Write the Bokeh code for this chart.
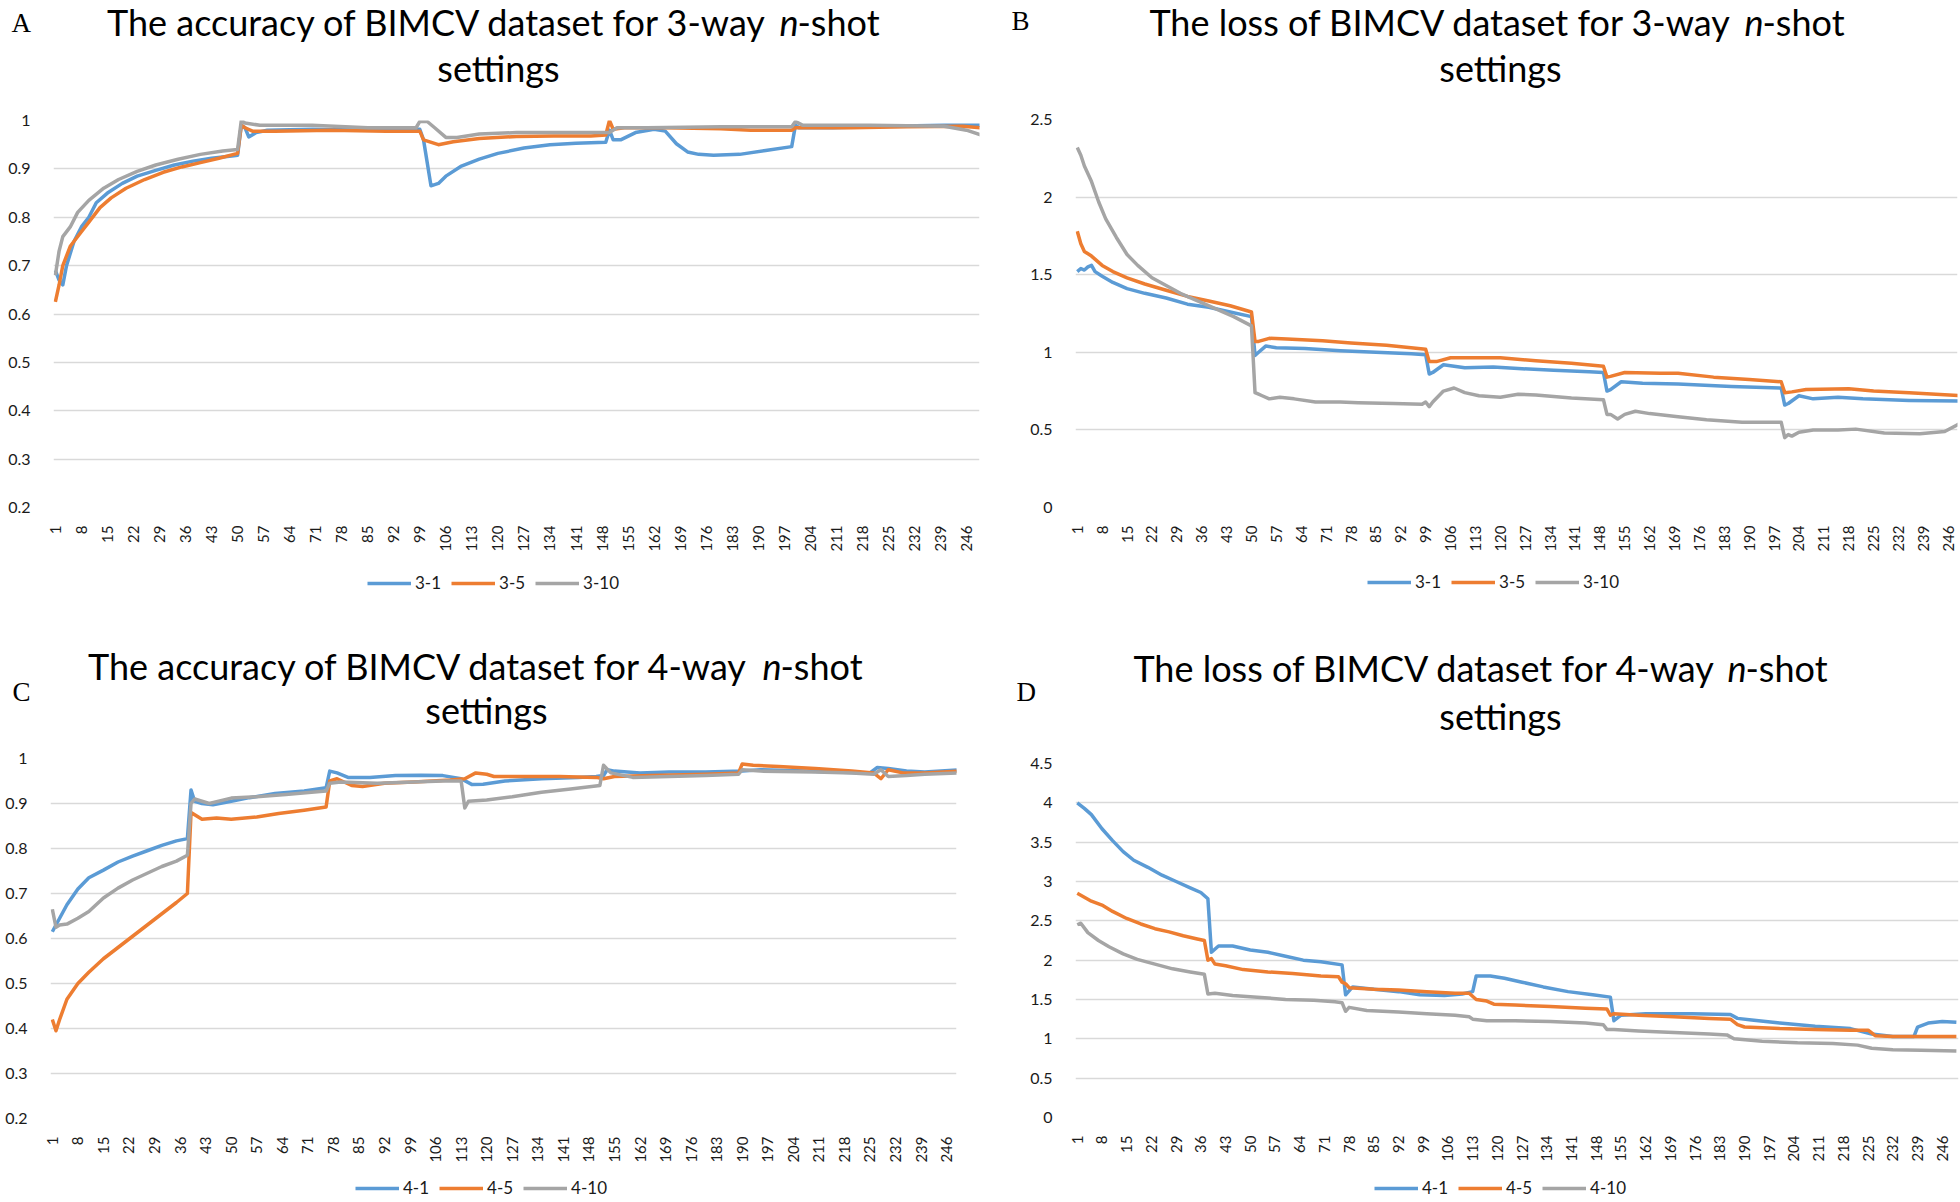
import math
from bokeh.plotting import figure
from bokeh.models import (Range1d, FixedTicker, CustomJSTickFormatter, Label,
                          Legend, LegendItem)
from bokeh.layouts import column, row
from bokeh.embed import file_html
from bokeh.resources import INLINE

# ---------------- data ----------------
x_ticks = [1, 8, 15, 22, 29, 36, 43, 50, 57, 64, 71, 78, 85, 92, 99, 106, 113,
           120, 127, 134, 141, 148, 155, 162, 169, 176, 183, 190, 197, 204, 211,
           218, 225, 232, 239, 246]
acc_ticks = [0.2, 0.3, 0.4, 0.5, 0.6, 0.7, 0.8, 0.9, 1.0]
loss3_ticks = [0, 0.5, 1, 1.5, 2, 2.5]
loss4_ticks = [0, 0.5, 1, 1.5, 2, 2.5, 3, 3.5, 4, 4.5]

# Panel A: accuracy, 3-way
a31_x = [1, 2, 3, 4, 6, 8, 10, 12, 15, 19, 23, 28, 33, 38, 43, 49, 50, 51, 52, 53, 55, 58, 70, 85, 99,
         100, 102, 104, 106, 110, 115, 120, 127, 134, 141, 149, 150, 151, 153, 157, 162, 165, 168, 171,
         174, 178, 185, 192, 199, 200, 201, 210, 225, 240, 250]
a31_y = [0.69, 0.67, 0.66, 0.70, 0.75, 0.78, 0.80, 0.83, 0.85, 0.87, 0.885, 0.897, 0.908, 0.916, 0.922,
         0.927, 0.928, 0.99, 0.985, 0.966, 0.975, 0.98, 0.982, 0.98, 0.982,
         0.96, 0.865, 0.87, 0.885, 0.905, 0.92, 0.932, 0.943, 0.95, 0.953, 0.955, 0.98, 0.96, 0.96,
         0.975, 0.982, 0.978, 0.952, 0.935, 0.93, 0.928, 0.93, 0.938, 0.946, 0.99, 0.985, 0.985,
         0.988, 0.99, 0.99]
a35_x = [1, 2, 3, 5, 8, 10, 13, 16, 20, 25, 30, 35, 40, 45, 50, 51, 52, 54, 60, 75, 90, 99, 100, 104,
         108, 115, 125, 135, 145, 149, 150, 151, 154, 165, 180, 188, 197, 199, 200, 215, 230, 245, 250]
a35_y = [0.625, 0.66, 0.70, 0.74, 0.77, 0.79, 0.82, 0.84, 0.86, 0.878, 0.893, 0.904, 0.913, 0.922,
         0.932, 0.99, 0.985, 0.978, 0.978, 0.98, 0.978, 0.978, 0.96, 0.95, 0.956, 0.963, 0.967,
         0.968, 0.968, 0.97, 1.0, 0.982, 0.985, 0.985, 0.983, 0.98, 0.98, 0.98, 0.985, 0.985,
         0.987, 0.988, 0.985]
a310_x = [1, 2, 3, 5, 7, 10, 14, 18, 23, 28, 34, 40, 46, 50, 51, 52, 56, 70, 85, 98, 99, 101, 103,
          106, 109, 115, 125, 140, 149, 150, 152, 160, 180, 199, 200, 202, 220, 240, 246, 250]
a310_y = [0.68, 0.73, 0.76, 0.78, 0.81, 0.835, 0.86, 0.878, 0.895, 0.908, 0.92, 0.93, 0.937, 0.94,
          1.0, 0.995, 0.99, 0.99, 0.985, 0.985, 0.998, 0.998, 0.985, 0.965, 0.965, 0.972, 0.975,
          0.975, 0.975, 0.975, 0.985, 0.985, 0.987, 0.987, 0.998, 0.99, 0.99, 0.988, 0.98, 0.97]

# Panel B: loss, 3-way
b31_x = [1, 2, 3, 4, 5, 6, 8, 11, 15, 20, 26, 32, 38, 44, 50, 51, 52, 54, 57, 65, 75, 85, 95, 99,
         100, 101, 104, 110, 118, 125, 135, 145, 149, 150, 151, 154, 160, 170, 185, 199, 200, 201,
         204, 208, 215, 222, 235, 250]
b31_y = [1.52, 1.54, 1.53, 1.55, 1.56, 1.52, 1.49, 1.45, 1.41, 1.38, 1.35, 1.31, 1.29, 1.26, 1.23,
         0.98, 1.0, 1.04, 1.03, 1.025, 1.01, 1.0, 0.99, 0.985, 0.86, 0.87, 0.92, 0.9, 0.905, 0.895,
         0.885, 0.875, 0.87, 0.75, 0.76, 0.81, 0.8, 0.795, 0.78, 0.77, 0.66, 0.67, 0.72, 0.7, 0.71,
         0.7, 0.69, 0.685]
b35_x = [1, 2, 3, 5, 8, 11, 15, 20, 26, 32, 38, 44, 50, 51, 52, 55, 60, 70, 78, 88, 99, 100, 102,
         106, 115, 120, 130, 140, 149, 150, 151, 155, 165, 170, 180, 190, 199, 200, 202, 206, 218,
         225, 235, 250]
b35_y = [1.78, 1.7, 1.65, 1.62, 1.56, 1.52, 1.48, 1.44, 1.4, 1.36, 1.33, 1.3, 1.26, 1.07, 1.07,
         1.09, 1.085, 1.075, 1.06, 1.045, 1.02, 0.94, 0.94, 0.965, 0.965, 0.965, 0.945, 0.93, 0.91,
         0.84, 0.845, 0.87, 0.865, 0.865, 0.84, 0.825, 0.81, 0.74, 0.745, 0.76, 0.765, 0.75, 0.74,
         0.72]
b310_x = [1, 2, 3, 5, 7, 9, 12, 15, 18, 22, 26, 30, 35, 40, 45, 50, 51, 52, 53, 55, 58, 62, 68, 75,
          80, 90, 98, 99, 100, 101, 104, 107, 110, 114, 120, 125, 130, 140, 149, 150, 151, 153, 155,
          158, 162, 170, 178, 188, 199, 200, 201, 202, 204, 208, 215, 220, 228, 238, 245, 250]
b310_y = [2.32, 2.27, 2.2, 2.1, 1.97, 1.86, 1.74, 1.63, 1.56, 1.48, 1.43, 1.38, 1.33, 1.28, 1.23,
          1.17, 0.74, 0.73, 0.72, 0.7, 0.71, 0.7, 0.68, 0.68, 0.675, 0.67, 0.665, 0.68, 0.65, 0.68,
          0.75, 0.77, 0.74, 0.72, 0.71, 0.73, 0.725, 0.705, 0.695, 0.6, 0.6, 0.57, 0.6, 0.62,
          0.605, 0.585, 0.565, 0.55, 0.55, 0.45, 0.47, 0.46, 0.485, 0.5, 0.5, 0.505, 0.48, 0.475,
          0.49, 0.55]

# Panel C: accuracy, 4-way
c41_x = [1, 2, 3, 5, 8, 11, 15, 19, 23, 27, 31, 35, 38, 39, 40, 42, 45, 50, 55, 62, 70, 76, 77, 79,
         82, 88, 95, 102, 108, 113, 116, 119, 125, 135, 145, 150, 152, 153, 155, 162, 170, 180,
         190, 195, 205, 215, 225, 227, 230, 235, 240, 250]
c41_y = [0.615, 0.63, 0.645, 0.675, 0.71, 0.735, 0.752, 0.77, 0.783, 0.795, 0.807, 0.817, 0.822,
         0.93, 0.905, 0.9, 0.897, 0.905, 0.913, 0.922, 0.928, 0.935, 0.972, 0.968, 0.958, 0.958,
         0.962, 0.963, 0.962, 0.955, 0.942, 0.943, 0.95, 0.955, 0.958, 0.96, 0.962, 0.975, 0.972,
         0.968, 0.97, 0.97, 0.972, 0.975, 0.973, 0.97, 0.968, 0.98, 0.978, 0.972, 0.97, 0.975]
c45_x = [1, 2, 3, 5, 8, 11, 15, 19, 23, 27, 31, 35, 38, 39, 40, 42, 46, 50, 57, 63, 70, 76, 77, 79,
         83, 86, 92, 100, 110, 114, 117, 120, 122, 130, 140, 150, 152, 155, 165, 180, 189, 190,
         193, 200, 210, 220, 226, 228, 230, 234, 240, 250]
c45_y = [0.42, 0.395, 0.42, 0.465, 0.5, 0.525, 0.555, 0.58, 0.605, 0.63, 0.655, 0.68, 0.7, 0.88,
         0.875, 0.865, 0.868, 0.865, 0.87, 0.878, 0.885, 0.892, 0.95, 0.955, 0.94, 0.938, 0.945,
         0.948, 0.952, 0.955, 0.968, 0.965, 0.96, 0.96, 0.96, 0.958, 0.955, 0.96, 0.962, 0.965,
         0.968, 0.988, 0.985, 0.982, 0.978, 0.972, 0.968, 0.955, 0.975, 0.968, 0.968, 0.972]
c410_x = [1, 2, 3, 5, 8, 11, 15, 19, 23, 27, 31, 35, 38, 39, 40, 44, 50, 57, 65, 72, 76, 77, 80,
          90, 100, 108, 113, 114, 115, 120, 127, 135, 143, 151, 152, 154, 160, 170, 180, 189, 190,
          195, 210, 220, 226, 228, 230, 235, 240, 250]
c410_y = [0.665, 0.625, 0.63, 0.632, 0.645, 0.66, 0.69, 0.712, 0.73, 0.745, 0.76, 0.772, 0.785,
          0.9, 0.91, 0.9, 0.912, 0.915, 0.92, 0.925, 0.928, 0.945, 0.948, 0.945, 0.948, 0.95,
          0.95, 0.89, 0.905, 0.908, 0.915, 0.925, 0.932, 0.94, 0.985, 0.968, 0.958, 0.96, 0.962,
          0.965, 0.975, 0.972, 0.97, 0.968, 0.965, 0.975, 0.96, 0.962, 0.965, 0.968]

# Panel D: loss, 4-way
d41_x = [1, 3, 5, 8, 11, 14, 17, 21, 25, 29, 33, 36, 38, 39, 41, 45, 50, 55, 60, 65, 70, 76, 77,
         79, 85, 92, 98, 105, 110, 113, 114, 118, 122, 127, 133, 140, 147, 152, 153, 155, 162, 175,
         186, 188, 192, 200, 210, 220, 226, 232, 238, 239, 242, 246, 250]
d41_y = [4.0, 3.93, 3.85, 3.67, 3.52, 3.38, 3.27, 3.18, 3.08, 3.0, 2.92, 2.86, 2.78, 2.1, 2.18,
         2.18, 2.13, 2.1, 2.05, 2.0, 1.98, 1.94, 1.56, 1.66, 1.63, 1.6, 1.56, 1.55, 1.57, 1.6, 1.8,
         1.8, 1.77, 1.72, 1.66, 1.6, 1.56, 1.53, 1.23, 1.3, 1.32, 1.32, 1.31, 1.26, 1.24, 1.2,
         1.16, 1.13, 1.06, 1.03, 1.03, 1.15, 1.2, 1.22, 1.21]
d45_x = [1, 3, 5, 8, 11, 15, 19, 23, 27, 31, 35, 37, 38, 39, 40, 43, 48, 55, 62, 70, 75, 76, 77,
         78, 85, 92, 100, 108, 112, 114, 117, 119, 125, 135, 145, 151, 152, 153, 160, 170, 180,
         186, 188, 190, 200, 210, 220, 225, 227, 232, 240, 250]
d45_y = [2.85, 2.8, 2.75, 2.7, 2.62, 2.53, 2.46, 2.4, 2.36, 2.31, 2.27, 2.25, 2.0, 2.02, 1.95,
         1.93, 1.88, 1.85, 1.83, 1.8, 1.79, 1.72, 1.7, 1.65, 1.63, 1.62, 1.6, 1.58, 1.58, 1.5,
         1.48, 1.44, 1.43, 1.41, 1.39, 1.38, 1.3, 1.32, 1.3, 1.28, 1.26, 1.25, 1.18, 1.15, 1.13,
         1.12, 1.11, 1.11, 1.04, 1.03, 1.03, 1.03]
d410_x = [1, 2, 4, 7, 10, 14, 18, 23, 28, 33, 37, 38, 40, 45, 52, 60, 68, 74, 76, 77, 78, 83, 92,
          100, 108, 112, 113, 117, 125, 135, 145, 150, 151, 153, 160, 170, 180, 185, 187, 195, 205,
          215, 222, 226, 232, 240, 250]
d410_y = [2.45, 2.47, 2.35, 2.25, 2.17, 2.08, 2.01, 1.95, 1.89, 1.85, 1.82, 1.57, 1.58, 1.55,
          1.53, 1.5, 1.49, 1.47, 1.46, 1.35, 1.4, 1.36, 1.34, 1.32, 1.3, 1.28, 1.25, 1.23, 1.23,
          1.22, 1.2, 1.18, 1.12, 1.12, 1.1, 1.08, 1.06, 1.05, 1.0, 0.97, 0.95, 0.94, 0.92, 0.88,
          0.86, 0.855, 0.845]

COLORS = ["#5B9BD5", "#ED7D31", "#A5A5A5"]
FONT = "Lato"
TITLE_SIZE = "36px"
LINE_W = 3.5


def no_align(fig):
    try:
        fig.frame_align = False
    except Exception:
        pass
    return fig


def blank_fig(w, h):
    f = figure(width=w, height=h, output_backend="svg", toolbar_location=None,
               x_range=Range1d(0, w), y_range=Range1d(h, 0),
               x_axis_type=None, y_axis_type=None, min_border=0)
    f.outline_line_color = None
    f.background_fill_color = "white"
    f.border_fill_color = "white"
    return no_align(f)


def make_header(w, h, seg1, n_x, shot_x, ty, word2, letter):
    hdr = blank_fig(w, h)
    text, rx = seg1
    hdr.add_layout(Label(x=rx, y=ty, text=text, text_align="right", text_baseline="middle",
                         text_font=FONT, text_font_size=TITLE_SIZE, text_color="black"))
    hdr.add_layout(Label(x=n_x, y=ty, text="n", text_align="left", text_baseline="middle",
                         text_font=FONT, text_font_style="italic", text_font_size=TITLE_SIZE,
                         text_color="black"))
    hdr.add_layout(Label(x=shot_x, y=ty, text="-shot", text_align="left", text_baseline="middle",
                         text_font=FONT, text_font_size=TITLE_SIZE, text_color="black"))
    s2, sx2, sy2 = word2
    hdr.add_layout(Label(x=sx2, y=sy2, text=s2, text_align="center", text_baseline="middle",
                         text_font=FONT, text_font_size=TITLE_SIZE, text_color="black"))
    lt, lx, ly = letter
    hdr.add_layout(Label(x=lx, y=ly, text=lt, text_align="left", text_baseline="middle",
                         text_font="Liberation Serif", text_font_size="27px",
                         text_color="black"))
    return hdr


def make_footer(w, h, names, loc):
    # legend strip below a chart; the proxy lines sit outside the visible range
    ftr = blank_fig(w, h)
    rends = [ftr.line(x=[-60, -40], y=[-60, -60], line_color=c, line_width=LINE_W)
             for c in COLORS]
    legend = Legend(items=[LegendItem(label=n, renderers=[r]) for n, r in zip(names, rends)],
                    orientation="horizontal", location=loc,
                    border_line_color=None, background_fill_alpha=0,
                    padding=0, margin=0, spacing=10, glyph_width=44, glyph_height=20,
                    label_standoff=4, label_text_font=FONT, label_text_font_size="17px",
                    label_text_color="#1a1a1a")
    ftr.add_layout(legend)
    return ftr


def make_chart(w, h, bl, br, bt, bb, xr, yr, yticks, series):
    p = figure(width=w, height=h, output_backend="svg", toolbar_location=None,
               x_range=Range1d(*xr), y_range=Range1d(*yr),
               min_border_left=bl, min_border_right=br,
               min_border_top=bt, min_border_bottom=bb)
    no_align(p)
    p.outline_line_color = None
    p.background_fill_color = "white"
    p.border_fill_color = "white"
    p.xgrid.visible = False
    p.ygrid.grid_line_color = "#D9D9D9"
    p.ygrid.grid_line_width = 1.4
    p.ygrid.ticker = FixedTicker(ticks=yticks)

    p.xaxis.ticker = FixedTicker(ticks=x_ticks)
    p.xaxis.major_label_orientation = math.pi / 2
    p.yaxis.ticker = FixedTicker(ticks=yticks)
    p.yaxis.formatter = CustomJSTickFormatter(code="return String(Math.round(tick*10)/10);")
    for ax in (p.xaxis[0], p.yaxis[0]):
        ax.axis_line_color = None
        ax.major_tick_line_color = None
        ax.minor_tick_line_color = None
        ax.major_label_text_font = FONT
        ax.major_label_text_color = "#1a1a1a"
    p.xaxis.major_label_text_font_size = "15px"
    p.yaxis.major_label_text_font_size = "16px"
    p.xaxis.major_label_standoff = 12
    p.yaxis.major_label_standoff = 17

    for (xs, ys), c in zip(series, COLORS):
        p.line(xs, ys, line_color=c, line_width=LINE_W, line_join="round")
    return p


hA = make_header(1003, 95, ("The accuracy of BIMCV dataset for 3-way", 768), 779, 797, 21,
                 ("settings", 498, 67), ("A", 11, 22))
hB = make_header(957, 95, ("The loss of BIMCV dataset for 3-way", 729), 741, 759, 21,
                 ("settings", 497, 67), ("B", 8, 20))
hC = make_header(1003, 105, ("The accuracy of BIMCV dataset for 4-way", 749), 762, 780, 25,
                 ("settings", 486, 69), ("C", 12, 51))
hD = make_header(957, 105, ("The loss of BIMCV dataset for 4-way", 713), 724, 742, 27,
                 ("settings", 497, 75), ("D", 13, 51))

pA = make_chart(1003, 470, 53, 24, 25, 58, (0.5, 249.5), (0.2, 1.0), acc_ticks,
                [(a31_x, a31_y), (a35_x, a35_y), (a310_x, a310_y)])
pB = make_chart(957, 470, 72, 3, 24, 58, (0.5, 248.6), (0, 2.5), loss3_ticks,
                [(b31_x, b31_y), (b35_x, b35_y), (b310_x, b310_y)])
pC = make_chart(1003, 425, 50, 47, 13, 52, (0.5, 248.7), (0.2, 1.0), acc_ticks,
                [(c41_x, c41_y), (c45_x, c45_y), (c410_x, c410_y)])
pD = make_chart(957, 425, 72, 2, 18, 53, (0.5, 250.6), (0, 4.5), loss4_ticks,
                [(d41_x, d41_y), (d45_x, d45_y), (d410_x, d410_y)])

fA = make_footer(1003, 75, ["3-1", "3-5", "3-10"], (367, 47))
fB = make_footer(957, 75, ["3-1", "3-5", "3-10"], (364, 48))
fC = make_footer(1003, 32, ["4-1", "4-5", "4-10"], (355, 4))
fD = make_footer(957, 32, ["4-1", "4-5", "4-10"], (371, 4))

layout = column(
    row(column(hA, pA, fA, spacing=0), column(hB, pB, fB, spacing=0), spacing=0),
    row(column(hC, pC, fC, spacing=0), column(hD, pD, fD, spacing=0), spacing=0),
    spacing=0)
open("out.html", "w").write(file_html(layout, INLINE))
